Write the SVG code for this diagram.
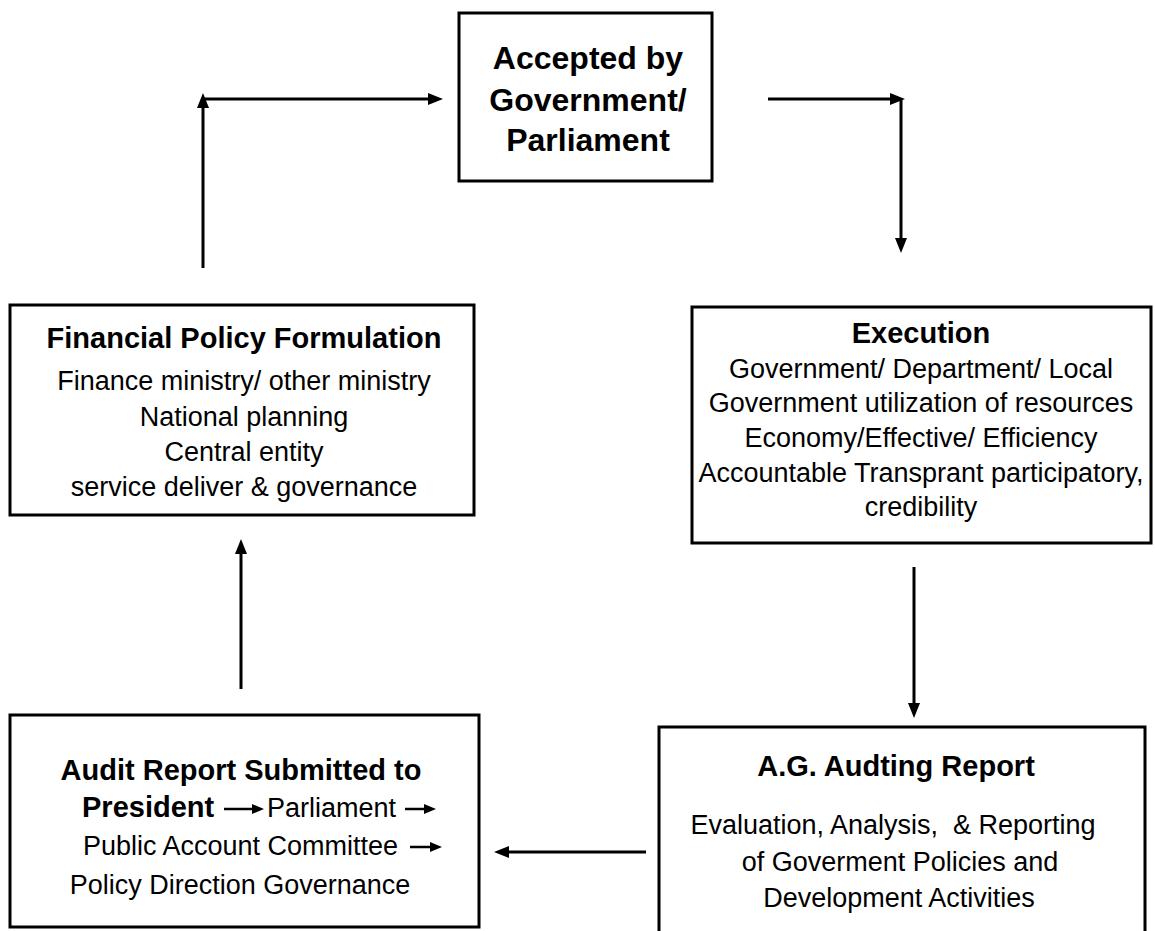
<svg xmlns="http://www.w3.org/2000/svg" width="1155" height="931" viewBox="0 0 1155 931">
  <style>
    .box { fill: #fff; stroke: #000; stroke-width: 3; }
    .t { font-family: "Liberation Sans", Arial, sans-serif; fill: #000; text-anchor: middle; }
    .s { text-anchor: start; }
    .b { font-weight: bold; }
    .h1 { font-size: 32px; }
    .h2 { font-size: 29px; }
    .tx { font-size: 27px; }
    .conn { stroke: #000; stroke-width: 3; fill: none; marker-end: url(#ah); }
    .mini { stroke: #000; stroke-width: 2.5; fill: none; marker-end: url(#ahs); }
  </style>
  <defs>
    <marker id="ah" markerUnits="userSpaceOnUse" markerWidth="16" markerHeight="14" refX="5" refY="7" orient="auto">
      <path d="M0,1 L15,7 L0,13 Z" fill="#000"/>
    </marker>
    <marker id="ahs" markerUnits="userSpaceOnUse" markerWidth="13" markerHeight="11" refX="4" refY="5.5" orient="auto">
      <path d="M0,0.5 L12,5.5 L0,10.5 Z" fill="#000"/>
    </marker>
  </defs>

  <rect width="1155" height="931" fill="#fff"/>

  <!-- connectors -->
  <g id="connectors">
    <line class="conn" x1="203" y1="268" x2="203" y2="103"/>
    <line class="conn" x1="203" y1="99" x2="433" y2="99"/>
    <line class="conn" x1="768" y1="99" x2="895" y2="99"/>
    <line class="conn" x1="901" y1="99" x2="901" y2="243"/>
    <line class="conn" x1="914" y1="567" x2="914" y2="708"/>
    <line class="conn" x1="646" y1="852" x2="504" y2="852"/>
    <line class="conn" x1="241" y1="689" x2="241" y2="549"/>
  </g>

  <!-- accepted by government / parliament -->
  <g id="node-accepted">
    <rect class="box" x="459" y="13" width="253" height="168"/>
    <text class="t b h1" x="588" y="69">Accepted by</text>
    <text class="t b h1" x="588" y="111">Government/</text>
    <text class="t b h1" x="588" y="151">Parliament</text>
  </g>

  <!-- financial policy formulation -->
  <g id="node-policy">
    <rect class="box" x="10" y="305" width="464" height="210"/>
    <text class="t b h2" x="244" y="348">Financial Policy Formulation</text>
    <text class="t tx" x="244" y="390">Finance ministry/ other ministry</text>
    <text class="t tx" x="244" y="426">National planning</text>
    <text class="t tx" x="244" y="461">Central entity</text>
    <text class="t tx" x="244" y="496">service deliver &amp; governance</text>
  </g>

  <!-- execution -->
  <g id="node-execution">
    <rect class="box" x="692" y="307" width="459" height="236"/>
    <text class="t b h2" x="921" y="343">Execution</text>
    <text class="t tx" x="921" y="378">Government/ Department/ Local</text>
    <text class="t tx" x="921" y="412">Government utilization of resources</text>
    <text class="t tx" x="921" y="447">Economy/Effective/ Efficiency</text>
    <text class="t tx" x="921" y="482">Accountable Transprant participatory,</text>
    <text class="t tx" x="921" y="516">credibility</text>
  </g>

  <!-- A.G. auditing report -->
  <g id="node-ag-report">
    <rect class="box" x="659" y="727" width="486" height="220"/>
    <text class="t b h2" x="896" y="776">A.G. Audting Report</text>
    <text class="t tx" x="893" y="834" xml:space="preserve">Evaluation, Analysis,  &amp; Reporting</text>
    <text class="t tx" x="900" y="871">of Goverment Policies and</text>
    <text class="t tx" x="899" y="907">Development Activities</text>
  </g>

  <!-- audit report submitted -->
  <g id="node-submitted">
    <rect class="box" x="10" y="715" width="469" height="212"/>
    <text class="t b h2" x="241" y="780">Audit Report Submitted to</text>
    <text class="t s b h2" x="82" y="817">President</text>
    <line class="mini" x1="224" y1="809" x2="256" y2="809"/>
    <text class="t s tx" x="267" y="817">Parliament</text>
    <line class="mini" x1="405" y1="809" x2="428" y2="809"/>
    <text class="t s tx" x="83" y="855">Public Account Committee</text>
    <line class="mini" x1="410" y1="847" x2="434" y2="847"/>
    <text class="t tx" x="240" y="894">Policy Direction Governance</text>
  </g>
</svg>
